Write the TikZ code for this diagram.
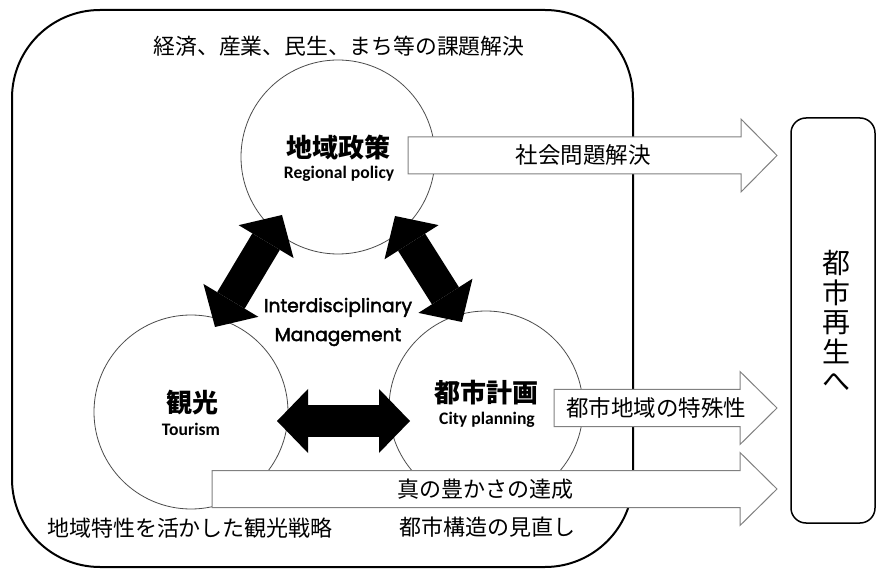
\documentclass[tikz,border=0pt]{standalone}
\usepackage{fontspec}
\setmainfont{Noto Sans CJK JP}
\newfontfamily\latb{Carlito}
\newfontfamily\geo[FakeBold=2.2]{Poppins}
\usetikzlibrary{arrows.meta}
\begin{document}
\begin{tikzpicture}[x=1pt,y=-1pt,
  circ/.style={circle, draw=black!70, line width=0.8pt, minimum size=194pt, inner sep=0pt},
  blk/.style={draw=black!50, fill=white, line width=1pt},
  jp/.style={font=\fontsize{22}{26}\selectfont, inner sep=0pt},
  ttl/.style={font=\fontsize{26}{30}\selectfont\bfseries, inner sep=0pt},
  en/.style={font=\fontsize{17.6}{20}\selectfont\latb\bfseries, inner sep=0pt},
  mg/.style={font=\fontsize{18.6}{29}\selectfont\geo, inner sep=0pt, align=center},
  fat/.style={line width=32pt, {Triangle[length=31pt,width=64pt,line width=0pt]}-{Triangle[length=31pt,width=64pt,line width=0pt]}}
]
\useasboundingbox (0,0) rectangle (876,569);
% frame
\node[draw, line width=2pt, rounded corners=88pt, minimum width=621pt, minimum height=557pt, inner sep=0pt] (frame) at (322.5,288.5) {};
\node[jp, font=\fontsize{21.8}{26}\selectfont] (topt) at (339,46) {経済、産業、民生、まち等の課題解決};
% circles
\node[circ] (pol) at (338,157) {};
\node[circ] (tour) at (191,412) {};
\node[circ] (city) at (486,408) {};
% black double arrows
\coordinate (l1) at (215,327); \coordinate (l2) at (282,215);
\coordinate (r1) at (395,216); \coordinate (r2) at (462,322);
\coordinate (h1) at (277,421); \coordinate (h2) at (410,421);
\draw[fat] (l1) -- (l2);
\draw[fat] (r1) -- (r2);
\draw[fat] (h1) -- (h2);
% hollow block arrows
\draw[blk] (408,137) -- (741,137) -- (741,119) -- (777,155.5) -- (741,192) -- (741,174) -- (408,174) -- cycle;
\draw[blk] (554,389.5) -- (740,389.5) -- (740,371.5) -- (777,408) -- (740,444.5) -- (740,426.5) -- (554,426.5) -- cycle;
\draw[blk] (212,470.5) -- (740,470.5) -- (740,452.5) -- (777,489) -- (740,525.5) -- (740,507.5) -- (212,507.5) -- cycle;
% circle texts
\node[ttl] (polj) at (338,148) {地域政策};
\node[en] (pole) at (339,174) {Regional policy};
\node[ttl] (tourj) at (192,403) {観光};
\node[en] (toure) at (191,429) {Tourism};
\node[ttl] (cityj) at (486,393) {都市計画};
\node[en] (citye) at (487,420) {City planning};
\node[mg] (mgmt) at (338,322) {Interdisciplinary\\Management};
% arrow labels
\node[jp, font=\fontsize{22.5}{26}\selectfont] (a1t) at (583,155) {社会問題解決};
\node[jp, font=\fontsize{22.5}{26}\selectfont] (a2t) at (656,408) {都市地域の特殊性};
\node[jp] (a3t) at (485,489) {真の豊かさの達成};
% bottom texts
\node[jp] (b1) at (190,528) {地域特性を活かした観光戦略};
\node[jp] (b2) at (487,527) {都市構造の見直し};
% goal box
\node[draw, line width=1.5pt, rounded corners=15pt, minimum width=84pt, minimum height=405pt, inner sep=0pt] (goal) at (833,320.5) {};
\node[font=\fontsize{28}{29.5}\selectfont, align=center, inner sep=0pt] (goalt) at (836,321) {都\\市\\再\\生\\へ};
\end{tikzpicture}
\end{document}
